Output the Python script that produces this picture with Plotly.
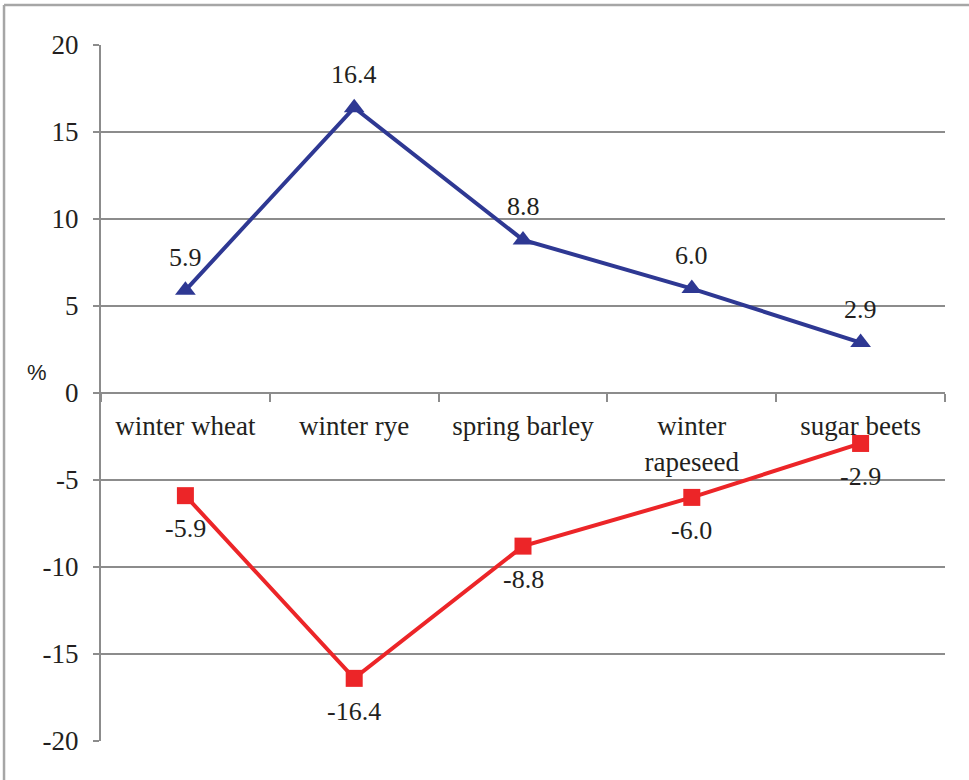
import plotly.graph_objects as go

# Crop categories and relative change (%) for the two scenarios
categories = ["winter wheat", "winter rye", "spring barley", "winter<br>rapeseed", "sugar beets"]
increase = [5.9, 16.4, 8.8, 6.0, 2.9]
decrease = [-5.9, -16.4, -8.8, -6.0, -2.9]
y_ticks = [-20, -15, -10, -5, 0, 5, 10, 15, 20]

SERIF = "Liberation Serif"
TEXT = "#231f20"
GRID = "#8c8c8c"
BLUE = "#2e3893"
RED = "#ec2528"

fig = go.Figure()
fig.add_trace(go.Scatter(
    x=categories, y=increase, mode="lines+markers",
    line=dict(color=BLUE, width=4),
    marker=dict(symbol="triangle-up", size=18, color=BLUE),
    showlegend=False, cliponaxis=False,
))
fig.add_trace(go.Scatter(
    x=categories, y=decrease, mode="lines+markers",
    line=dict(color=RED, width=4),
    marker=dict(symbol="square", size=17, color=RED),
    showlegend=False, cliponaxis=False,
))

# value labels above/below each point
annotations = []
for c, v in zip(categories, increase):
    annotations.append(dict(x=c, y=v, text=f"{v:.1f}", showarrow=False,
                            yshift=33, font=dict(family=SERIF, size=26, color=TEXT)))
for c, v in zip(categories, decrease):
    annotations.append(dict(x=c, y=v, text=f"{v:.1f}", showarrow=False,
                            yshift=-33, font=dict(family=SERIF, size=26, color=TEXT)))

# y-axis unit label
annotations.append(dict(xref="paper", yref="paper", x=-0.076, y=0.53, text="%",
                        xanchor="center", yanchor="middle", showarrow=False,
                        font=dict(family="Liberation Sans", size=22, color=TEXT)))

# outer frame (top and left edges)
shapes = [
    dict(type="line", xref="paper", yref="paper", x0=-0.1149, x1=1.03, y0=1.0575, y1=1.0575,
         line=dict(color="#a6a6a6", width=2.5)),
    dict(type="line", xref="paper", yref="paper", x0=-0.1149, x1=-0.1149, y0=1.0575, y1=-0.1,
         line=dict(color="#a6a6a6", width=2.5)),
]

fig.update_layout(
    width=969, height=780,
    margin=dict(l=101, r=24, t=45, b=39),
    paper_bgcolor="white", plot_bgcolor="white",
    font=dict(family=SERIF, size=27, color=TEXT),
    annotations=annotations, shapes=shapes,
    xaxis=dict(
        type="category", anchor="free", position=0.5, range=[-0.5, 4.5],
        showline=True, linecolor=GRID, linewidth=2,
        showgrid=False, zeroline=False,
        ticks="outside", tickson="boundaries", ticklen=8, tickcolor=GRID, tickwidth=2,
        tickfont=dict(family=SERIF, size=27, color=TEXT),
        ticklabelstandoff=9,
    ),
    yaxis=dict(
        range=[-20, 20], tickvals=y_ticks, ticktext=[str(t) for t in y_ticks],
        showline=True, linecolor=GRID, linewidth=2,
        showgrid=True, gridcolor=GRID, gridwidth=2,
        zeroline=False,
        ticks="outside", ticklen=6, tickcolor=GRID, tickwidth=2,
        tickfont=dict(family=SERIF, size=27, color=TEXT),
        ticklabelstandoff=9,
    ),
)

fig.write_html("out.html")
